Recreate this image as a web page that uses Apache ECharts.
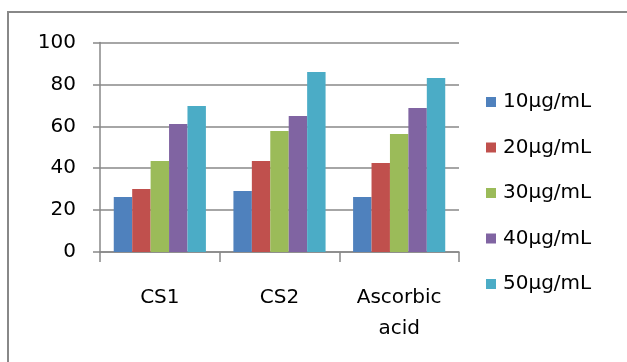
<!DOCTYPE html>
<html><head><meta charset="utf-8">
<script src="https://cdn.jsdelivr.net/npm/echarts@6/dist/echarts.min.js"></script>
<style>html,body{margin:0;padding:0;background:#fff}#c{width:627px;height:362px}</style>
</head><body><div id="c"></div>
<script>
const categories = ['CS1', 'CS2', 'Ascorbic\nacid'];
const seriesNames = ['10µg/mL', '20µg/mL', '30µg/mL', '40µg/mL', '50µg/mL'];
const v10 = [26.3, 29.1, 26.3];
const v20 = [30.1, 43.4, 42.5];
const v30 = [43.4, 57.8, 56.3];
const v40 = [61.1, 64.9, 68.7];
const v50 = [69.7, 85.9, 83.1];
const yTicks = [0, 20, 40, 60, 80, 100];
const colors = ['#4F81BD', '#C0504D', '#9BBB59', '#8064A2', '#4BACC6'];
const values = [v10, v20, v30, v40, v50];
const font = '"DejaVu Sans", sans-serif';
const chart = echarts.init(document.getElementById('c'));
chart.setOption({
  animation: false,
  color: colors,
  grid: { left: 100, right: 168, top: 42.5, bottom: 110 },
  graphic: [{ type: 'rect', shape: { x: 8, y: 12, width: 640, height: 380 }, style: { fill: 'none', stroke: '#888', lineWidth: 2 } }],
  legend: {
    orient: 'vertical', left: 481, top: 87, itemWidth: 10, itemHeight: 10, itemGap: 25.5,
    icon: 'rect',
    textStyle: { fontFamily: font, fontSize: 20, color: '#000', padding: [0,0,0,2], lineHeight: 20 },
    data: seriesNames
  },
  xAxis: {
    type: 'category', data: categories,
    axisLine: { lineStyle: { color: '#888', width: 1.5 } },
    axisTick: { show: true, length: 10, alignWithLabel: false, lineStyle: { color: '#888', width: 1.5 } },
    axisLabel: { fontFamily: font, fontSize: 20, color: '#000', margin: 30, lineHeight: 31, interval: 0 }
  },
  yAxis: {
    type: 'value', min: 0, max: 100, interval: 20,
    axisLine: { show: true, lineStyle: { color: '#888', width: 1.5 } },
    axisTick: { show: true, length: 7, lineStyle: { color: '#888', width: 1.5 } },
    splitLine: { lineStyle: { color: '#888', width: 1.5 } },
    axisLabel: { fontFamily: font, fontSize: 20, color: '#000', margin: 24,
      formatter: v => yTicks.includes(v) ? String(v) : '' }
  },
  series: seriesNames.map((n, i) => ({
    name: n, type: 'bar', data: values[i], barGap: '0%', barCategoryGap: '23%'
  }))
});
</script></body></html>
